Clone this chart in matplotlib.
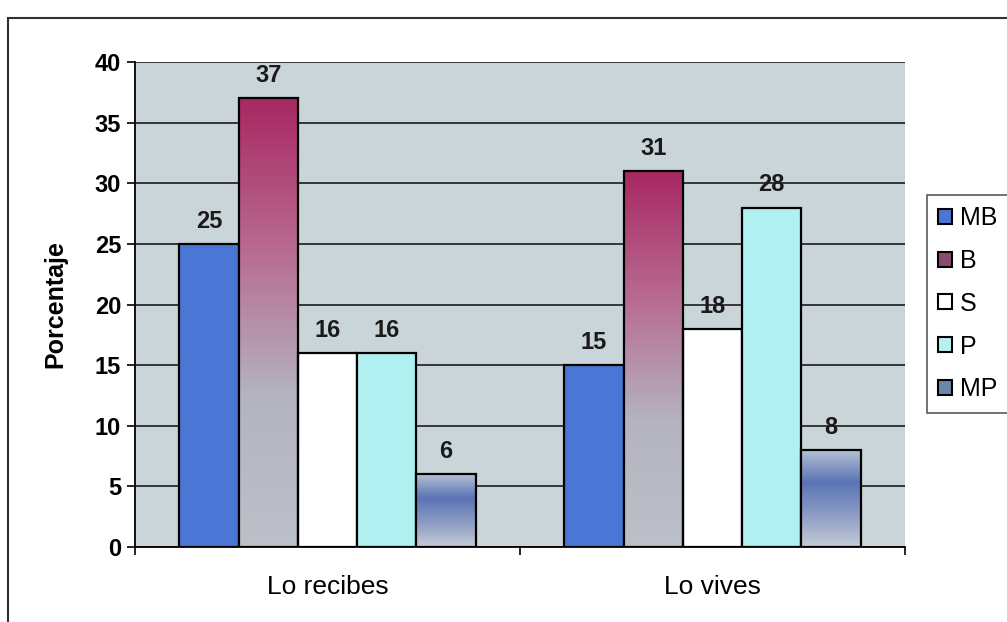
import numpy as np
import matplotlib
matplotlib.use("Agg")
import matplotlib.pyplot as plt
from matplotlib.colors import LinearSegmentedColormap
from matplotlib.patches import Rectangle, Patch

plt.rcParams['font.family'] = ['Liberation Sans', 'DejaVu Sans']

categories = ["Lo recibes", "Lo vives"]
series = ["MB", "B", "S", "P", "MP"]
MB = [25, 15]
B = [37, 31]
S = [16, 18]
P = [16, 28]
MP = [6, 8]
values = [MB, B, S, P, MP]

# colores: solido o degradado (arriba -> abajo)
fills = {
    "MB": ["#4a76d6"],
    "B": ["#a82862", "#b86a90", "#b4b4c0", "#bcc0c8"],
    "S": ["#ffffff"],
    "P": ["#b0f0f0"],
    "MP": ["#b4c0d4", "#5a74b4", "#8c9cc4", "#c4ccd6"],
}
legend_colors = {"MB": "#4a76d6", "B": "#8a4a70", "S": "#ffffff",
                 "P": "#b8f0f0", "MP": "#6a86a8"}

fig = plt.figure(figsize=(10.07, 6.22), dpi=100)
fig.patch.set_facecolor("white")
fig.patches.append(Rectangle((8 / 1007, -0.1), 1.2, 1 - 18 / 622 + 0.1,
                             transform=fig.transFigure, fill=False,
                             edgecolor="#303030", linewidth=1.5))

ax = fig.add_axes([135 / 1007, 1 - 547 / 622, 770 / 1007, 485 / 622])
ax.set_facecolor("#c9d5d9")

x = np.arange(len(categories))
w = 0.154
for i, name in enumerate(series):
    for j, v in enumerate(values[i]):
        x0 = x[j] + (i - 2) * w - w / 2
        cols = fills[name]
        if len(cols) == 1:
            ax.bar(x0, v, width=w, align="edge", color=cols[0],
                   edgecolor="black", linewidth=1.6, zorder=3)
        else:
            cmap = LinearSegmentedColormap.from_list(name, cols)
            grad = np.linspace(0, 1, 256).reshape(-1, 1)
            ax.imshow(grad, cmap=cmap, extent=[x0, x0 + w, 0, v],
                      origin="upper", aspect="auto", zorder=3)
            ax.bar(x0, v, width=w, align="edge", color="none",
                   edgecolor="black", linewidth=1.6, zorder=4)
        ax.annotate(str(v), (x0 + w / 2, v), xytext=(0, 8),
                    textcoords="offset points", ha="center", va="bottom",
                    fontsize=17, fontweight="bold", color="#1a1a1a", zorder=5)

ax.set_xlim(-0.5, 1.5)
ax.set_ylim(0, 40)
ax.set_yticks(range(0, 41, 5))
ax.set_yticklabels([str(t) for t in range(0, 41, 5)], fontsize=17,
                   fontweight="bold")
ax.set_xticks([-0.5, 0.5, 1.5])
ax.set_xticklabels([])
ax.set_xticks(x, minor=True)
ax.set_xticklabels(categories, minor=True, fontsize=19)
ax.tick_params(axis="x", which="minor", length=0, pad=20)
ax.tick_params(axis="x", which="major", length=6, width=1.2)
ax.tick_params(axis="y", length=6, width=1.2, pad=4)
ax.grid(axis="y", color="#2a2a2a", linewidth=1.3, zorder=1)
ax.set_axisbelow(True)
for s in ["top", "right"]:
    ax.spines[s].set_visible(False)
ax.spines["left"].set_linewidth(1.3)
ax.spines["bottom"].set_linewidth(1.3)
ax.set_ylabel("Porcentaje", fontsize=18, fontweight="bold", labelpad=20)

handles = [Patch(facecolor=legend_colors[n], edgecolor="black", linewidth=1.5)
           for n in series]
leg = fig.legend(handles, series, loc="upper left",
                 bbox_to_anchor=(927 / 1007, 1 - 195 / 622),
                 fontsize=18, frameon=True, fancybox=False,
                 handlelength=0.55, handleheight=0.55, handletextpad=0.3,
                 labelspacing=0.75, borderpad=0.45, borderaxespad=0)
leg.get_frame().set_edgecolor("#303030")
leg.get_frame().set_linewidth(1.2)

fig.savefig("out.png", dpi=100)
